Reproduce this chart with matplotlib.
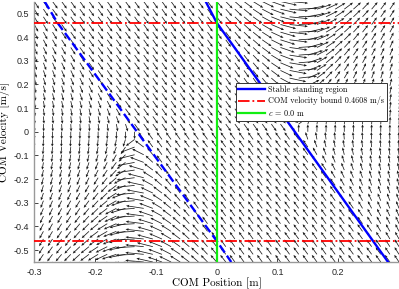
import numpy as np
import matplotlib
matplotlib.use("Agg")
from matplotlib import pyplot as plt

# values
vel_bound = 0.4608              # COM velocity bound [m/s]
cop_min, cop_max = -0.13, 0.13  # support region [m]
com_ref = 0.0                   # c [m]

pos_grid = np.linspace(-0.3, 0.3, 41)
vel_grid = np.linspace(-0.55, 0.55, 35)

# edges of the stable standing region
stable_pos = [-0.018, 0.0, 0.282]
stable_vel = [0.55, 0.4608, -0.55]
lower_pos = [-0.283, -0.262, 0.0, 0.024]
lower_vel = [0.55, 0.4608, -0.4608, -0.55]

xticks = [-0.3, -0.2, -0.1, 0, 0.1, 0.2]
yticks = [-0.5, -0.4, -0.3, -0.2, -0.1, 0, 0.1, 0.2, 0.3, 0.4, 0.5]

plt.rcParams["axes.unicode_minus"] = False
plt.rcParams["mathtext.fontset"] = "cm"

# phase portrait of the LIP with saturated CoP (capture point control)
omega = vel_bound / cop_max
X, V = np.meshgrid(pos_grid, vel_grid)
cop = np.clip(X + V / omega, cop_min, cop_max)
acc = omega ** 2 * (X - cop)
with np.errstate(invalid="ignore"):
    norm = np.hypot(V, acc)
    U = V / norm
    W = acc / norm

# matlab-like autoscale
delx = (pos_grid[-1] - pos_grid[0]) / len(pos_grid)
dely = (vel_grid[-1] - vel_grid[0]) / len(vel_grid)
arrow_len = 0.9 * np.sqrt(delx ** 2 + dely ** 2)

fig = plt.figure(figsize=(3.99, 2.89), dpi=100)
ax = fig.add_axes([34.3 / 399, 27 / 289, (399 - 34.3) / 399, 260.5 / 289])

ax.quiver(X, V, U * arrow_len, W * arrow_len, angles="xy", scale_units="xy",
          scale=1, width=0.0021, headwidth=3.5, headlength=4, headaxislength=3.6,
          color="#1a1a1a", zorder=1)

ax.plot(stable_pos, stable_vel, color="b", lw=1.7, label="Stable standing region", zorder=3)
ax.plot(lower_pos, lower_vel, color="b", lw=1.7, ls="--", zorder=3)
ax.axhline(vel_bound, color="r", ls="-.", lw=1.3,
           label="COM velocity bound 0.4608 m/s", zorder=3)
ax.axhline(-vel_bound, color="r", ls="-.", lw=1.3, zorder=3)
ax.axvline(com_ref, color="#11ee11", lw=1.6, label="$c$ = 0.0 m", zorder=3)

ax.set_xlim(-0.3, 0.3)
ax.set_ylim(-0.55, 0.55)
ax.set_xticks(xticks)
ax.set_xticklabels([f"{t:g}" for t in xticks])
ax.set_yticks(yticks)
ax.set_yticklabels([f"{t:g}" for t in yticks])
ax.tick_params(direction="in", length=3, width=0.6, colors="#262626",
               labelsize=6.5, pad=4)
for lab in ax.get_xticklabels() + ax.get_yticklabels():
    lab.set_family("Liberation Sans")
for side in ["top", "right"]:
    ax.spines[side].set_visible(False)
for side in ["left", "bottom"]:
    ax.spines[side].set_color("#999999")
    ax.spines[side].set_linewidth(1.0)

ax.set_xlabel("COM Position [m]", family="cmr10", fontsize=8, labelpad=1)
ax.set_ylabel("COM Velocity [m/s]", family="cmr10", fontsize=8, labelpad=2)

leg = ax.legend(loc="upper left", bbox_to_anchor=(0.552, 0.688),
                prop={"family": "cmr10", "size": 5.8}, handlelength=3.3,
                handletextpad=0.4, labelspacing=0.3, borderpad=0.35,
                borderaxespad=0, fancybox=False, framealpha=1,
                edgecolor="#333333")
leg.get_frame().set_linewidth(0.7)

fig.savefig("out.png", dpi=100)
